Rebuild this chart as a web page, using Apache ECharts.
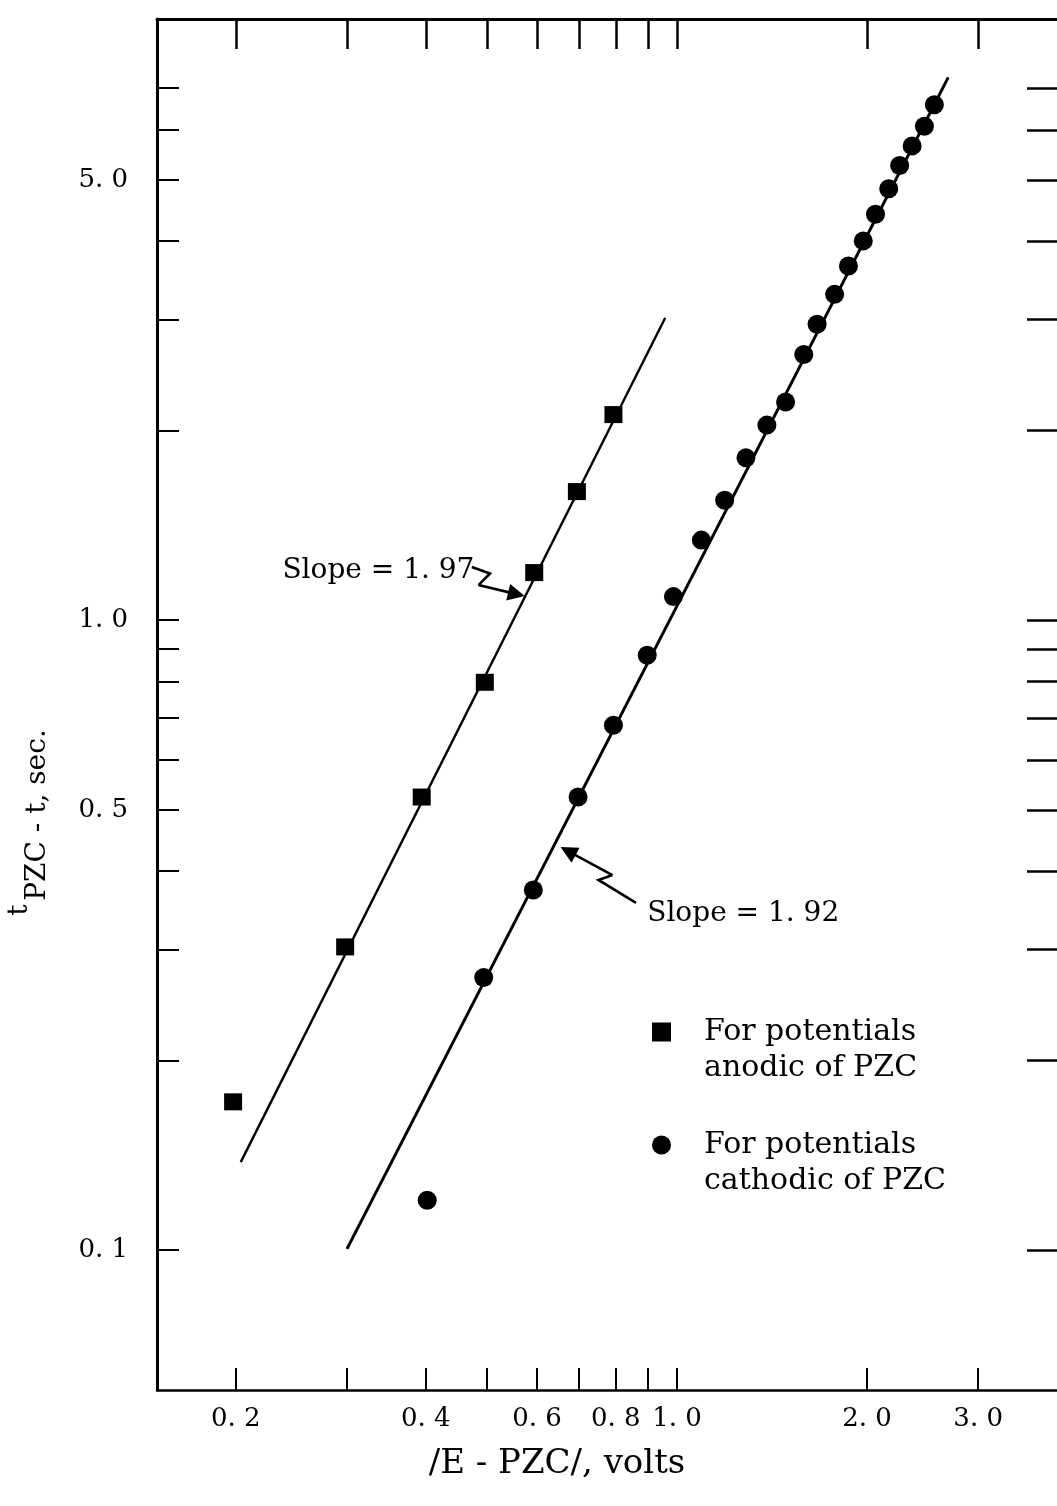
<!DOCTYPE html>
<html>
<head>
<meta charset="utf-8">
<script src="https://cdn.jsdelivr.net/npm/echarts@6/dist/echarts.min.js"></script>
<style>
html,body{margin:0;padding:0;background:#fff;}
#chart{width:1057px;height:1506px;}
</style>
</head>
<body>
<div id="chart"></div>
<script>
// ---- tick / label values ----
const xTickValues = [0.2, 0.3, 0.4, 0.5, 0.6, 0.7, 0.8, 0.9, 1.0, 2.0, 3.0];
const xLabelValues = [0.2, 0.4, 0.6, 0.8, 1.0, 2.0, 3.0];
const yTickValues = [0.1, 0.2, 0.3, 0.4, 0.5, 0.6, 0.7, 0.8, 0.9, 1, 2, 3, 4, 5, 6, 7];
const yLabelValues = [0.1, 0.5, 1.0, 5.0];

// ---- data: anodic (squares) ----
const anodicX = [0.198, 0.298, 0.394, 0.496, 0.594, 0.694, 0.793];
const anodicY = [0.172, 0.303, 0.524, 0.797, 1.19, 1.60, 2.12];

// ---- data: cathodic (circles) ----
const cathodicX = [0.402, 0.494, 0.592, 0.697, 0.793, 0.897, 0.987, 1.093, 1.190, 1.286, 1.388, 1.486,
                   1.588, 1.667, 1.777, 1.869, 1.973, 2.063, 2.165, 2.253, 2.358, 2.466, 2.557];
const cathodicY = [0.120, 0.271, 0.373, 0.524, 0.681, 0.880, 1.09, 1.34, 1.55, 1.81, 2.04, 2.22,
                   2.64, 2.95, 3.29, 3.65, 4.00, 4.41, 4.84, 5.27, 5.66, 6.08, 6.58];

// ---- fitted lines ----
const anodicFitX = [0.2036, 0.958];
const anodicFitY = [0.138, 3.02];
const cathodicFitX = [0.300, 2.69];
const cathodicFitY = [0.1005, 7.27];

// ---- annotation arrows (zig-zag) ----
const arrow197X = [0.473, 0.5055, 0.4847, 0.5567];
const arrow197Y = [1.215, 1.186, 1.137, 1.100];
const arrow192X = [0.861, 0.751, 0.790, 0.672];
const arrow192Y = [0.356, 0.387, 0.394, 0.430];

// ---- annotation texts ----
const annoText = ['Slope = 1. 97', 'Slope = 1. 92'];
const annoX = [0.237, 0.897];
const annoY = [1.200, 0.342];

const LEG_A = 'For potentials\nanodic of PZC';
const LEG_C = 'For potentials\ncathodic of PZC';
const FONT = '"DejaVu Serif", serif';

const zip = (xs, ys) => xs.map((x, i) => [x, ys[i]]);
const fmt = v => Number(v).toFixed(1).replace('.', '. ');

function arrowBody(xs, ys) { return zip(xs.slice(0, xs.length - 1), ys.slice(0, ys.length - 1)); }
function arrowHead(xs, ys) { const n = xs.length; return [[xs[n - 2], ys[n - 2]], [xs[n - 1], ys[n - 1]]]; }

const chart = echarts.init(document.getElementById('chart'), null, {renderer: 'canvas'});

const option = {
  backgroundColor: '#fff',
  animation: false,
  grid: {left: 157, right: -9, top: 19, bottom: 116, containLabel: false},
  xAxis: [
    {
      type: 'log', min: 0.15, max: 4, position: 'bottom',
      axisLine: {show: true, onZero: false, lineStyle: {color: '#000', width: 2.5}},
      axisTick: {show: true, inside: true, length: 22, customValues: xTickValues, lineStyle: {color: '#000', width: 2}},
      axisLabel: {show: true, customValues: xLabelValues, formatter: fmt, margin: 16,
                  color: '#000', fontFamily: FONT, fontSize: 26},
      splitLine: {show: false}, minorTick: {show: false}
    },
    {
      type: 'log', min: 0.15, max: 4, position: 'top',
      axisLine: {show: true, onZero: false, lineStyle: {color: '#000', width: 3}},
      axisTick: {show: true, inside: true, length: 30, customValues: xTickValues, lineStyle: {color: '#000', width: 2.5}},
      axisLabel: {show: false},
      splitLine: {show: false}, minorTick: {show: false}
    }
  ],
  yAxis: [
    {
      type: 'log', min: 0.06, max: 9, position: 'left',
      axisLine: {show: true, onZero: false, lineStyle: {color: '#000', width: 3}},
      axisTick: {show: true, inside: true, length: 22, customValues: yTickValues, lineStyle: {color: '#000', width: 2}},
      axisLabel: {show: true, customValues: yLabelValues, formatter: fmt, margin: 29,
                  color: '#000', fontFamily: FONT, fontSize: 26},
      splitLine: {show: false}, minorTick: {show: false}
    },
    {
      type: 'log', min: 0.06, max: 9, position: 'right',
      axisLine: {show: false},
      axisTick: {show: true, inside: true, length: 30, customValues: yTickValues, lineStyle: {color: '#000', width: 2.5}},
      axisLabel: {show: false},
      splitLine: {show: false}, minorTick: {show: false}
    }
  ],
  legend: {
    orient: 'vertical', left: 647, top: 973,
    itemWidth: 19, itemHeight: 19, itemGap: 5, selectedMode: false,
    data: [{name: LEG_A, icon: 'rect'}, {name: LEG_C, icon: 'circle'}],
    formatter: name => '\n' + name,
    itemStyle: {color: '#000', opacity: 1},
    textStyle: {fontFamily: FONT, fontSize: 30, lineHeight: 36, color: '#000', padding: [0, 0, 0, 28]}
  },
  series: [
    {
      type: 'line', name: 'anodic fit', data: zip(anodicFitX, anodicFitY),
      symbol: 'none', silent: true, lineStyle: {color: '#000', width: 2.4}, z: 2
    },
    {
      type: 'line', name: 'cathodic fit', data: zip(cathodicFitX, cathodicFitY),
      symbol: 'none', silent: true, lineStyle: {color: '#000', width: 3}, z: 2
    },
    {
      type: 'scatter', name: LEG_A, data: zip(anodicX, anodicY),
      symbol: 'rect', symbolSize: [18, 17], itemStyle: {color: '#000', opacity: 1}, z: 3
    },
    {
      type: 'scatter', name: LEG_C, data: zip(cathodicX, cathodicY),
      symbol: 'circle', symbolSize: 19, itemStyle: {color: '#000', opacity: 1}, z: 3
    },
    {
      type: 'lines', coordinateSystem: 'cartesian2d', polyline: true, silent: true,
      data: [{coords: arrowBody(arrow197X, arrow197Y)}, {coords: arrowBody(arrow192X, arrow192Y)}],
      lineStyle: {color: '#000', width: 2.6, opacity: 1}, z: 4
    },
    {
      type: 'lines', coordinateSystem: 'cartesian2d', silent: true,
      data: [{coords: arrowHead(arrow197X, arrow197Y)}, {coords: arrowHead(arrow192X, arrow192Y)}],
      symbol: ['none', 'triangle'], symbolSize: 17,
      lineStyle: {color: '#000', width: 2.6, opacity: 1}, z: 4
    },
    {
      type: 'scatter', name: 'annotations', silent: true,
      data: annoText.map((t, i) => ({name: t, value: [annoX[i], annoY[i]]})),
      symbolSize: 0, itemStyle: {color: '#000', opacity: 1},
      label: {show: true, position: 'right', distance: 0, formatter: '{b}',
              fontFamily: FONT, fontSize: 28, color: '#000', opacity: 1},
      z: 5
    }
  ],
  graphic: [
    {
      type: 'text', x: 557, y: 1464, silent: true,
      style: {text: '/E - PZC/, volts', fontFamily: FONT, fontSize: 34, fill: '#000',
              align: 'center', verticalAlign: 'middle'}
    },
    {
      type: 'text', x: 38, y: 815, rotation: Math.PI / 2, silent: true,
      style: {text: 'PZC - t, sec.', fontFamily: FONT, fontSize: 28, fill: '#000',
              align: 'center', verticalAlign: 'middle'}
    },
    {
      type: 'text', x: 20, y: 910, rotation: Math.PI / 2, silent: true,
      style: {text: 't', fontFamily: FONT, fontSize: 28, fill: '#000',
              align: 'center', verticalAlign: 'middle'}
    }
  ]
};
chart.setOption(option);
</script>
</body>
</html>
